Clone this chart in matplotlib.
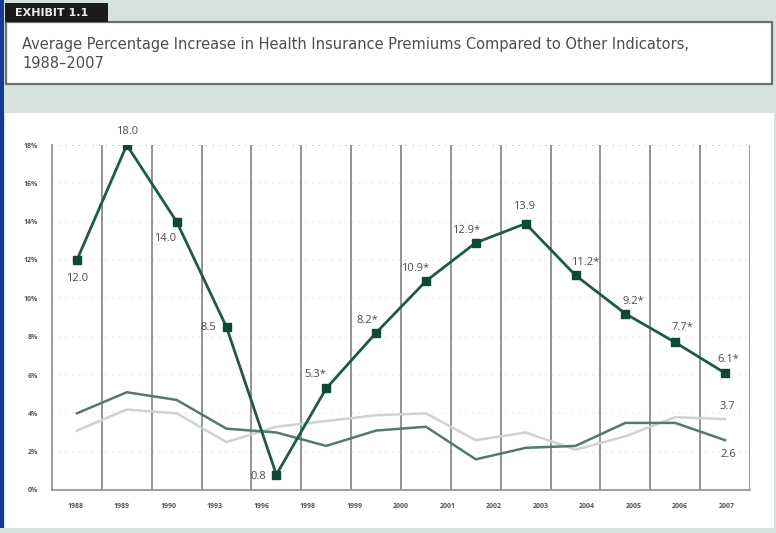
import matplotlib.pyplot as plt
from matplotlib.patches import Rectangle

# survey years shown under the axis
year_labels = ["1988", "1989", "1990", "1993", "1996", "1998", "1999", "2000",
               "2001", "2002", "2003", "2004", "2005", "2006", "2007"]

# average % increase per survey year
premiums = [12.0, 18.0, 14.0, 8.5, 0.8, 5.3, 8.2, 10.9, 12.9, 13.9, 11.2, 9.2, 7.7, 6.1]
premium_text = ["12.0", "18.0", "14.0", "8.5", "0.8", "5.3*", "8.2*", "10.9*",
                "12.9*", "13.9", "11.2*", "9.2*", "7.7*", "6.1*"]
inflation = [4.0, 5.1, 4.7, 3.2, 3.0, 2.3, 3.1, 3.3, 1.6, 2.2, 2.3, 3.5, 3.5, 2.6]
earnings = [3.1, 4.2, 4.0, 2.5, 3.3, 3.6, 3.9, 4.0, 2.6, 3.0, 2.1, 2.8, 3.8, 3.7]
y_ticks = [0, 2, 4, 6, 8, 10, 12, 14, 16, 18]

# where each premium label sits relative to its marker (points)
label_offsets = [(0, -13), (0, 10), (-8, -12), (-13, 0), (-13, -1), (-8, 10),
                 (-6, 9), (-8, 9), (-7, 9), (-1, 12), (7, 9), (6, 9), (5, 11), (2, 10)]

W, H = 776, 533
plt.rcParams["font.family"] = ["Open Sans", "DejaVu Sans"]
fig = plt.figure(figsize=(W / 100, H / 100), dpi=100)
fig.patch.set_facecolor("#d6e3dc")


def box(x0, y0, x1, y1, **kw):
    # rectangle given in pixels from the top-left corner
    r = Rectangle((x0 / W, 1 - y1 / H), (x1 - x0) / W, (y1 - y0) / H,
                  transform=fig.transFigure, zorder=-1, **kw)
    fig.patches.append(r)


box(0, 0, 4, 528, facecolor="#163c8c", edgecolor="none")
box(5, 113, 774, 528, facecolor="white", edgecolor="none")
box(6, 22, 772, 84, facecolor="white", edgecolor="#6f6f6f", linewidth=1.6)
box(5, 3, 108, 22, facecolor="#1b1b1b", edgecolor="none")
fig.text(15 / W, 1 - 13 / H, "EXHIBIT 1.1", color="#eeeeee", fontsize=8,
         fontweight="bold", va="center", family="DejaVu Sans")
fig.text(22 / W, 1 - 45 / H,
         "Average Percentage Increase in Health Insurance Premiums Compared to Other Indicators,",
         color="#4d4d4d", fontsize=10.5, va="center", family="DejaVu Sans")
fig.text(22 / W, 1 - 63 / H, "1988\u20132007", color="#4d4d4d", fontsize=10.5,
         va="center", family="DejaVu Sans")

ax = fig.add_axes([52 / W, 1 - 490 / H, 698 / W, 345 / H])
ax.set_facecolor("none")
n = len(premiums)
xs = [i + 0.5 for i in range(n)]
ax.set_xlim(0, n)
ax.set_ylim(0, 18)

for y in y_ticks[1:]:
    ax.axhline(y, color="#bbbbbb" if y == 18 else "#eeeeee", linestyle=(0, (1, 3)),
               linewidth=1.2, zorder=0)
for i in range(n + 1):
    ax.axvline(i, color="#8a8a8a", linewidth=1.3, zorder=1)

ax.plot(xs, earnings, color="#cdd3d0", linewidth=1.8, zorder=2)
ax.plot(xs, inflation, color="#557a6b", linewidth=1.8, zorder=3)
ax.plot(xs, premiums, color="#1e5a44", linewidth=2.0, marker="s", markersize=6,
        markerfacecolor="#0d4a32", markeredgecolor="#0d4a32", zorder=4)

for x, v, t, off in zip(xs, premiums, premium_text, label_offsets):
    ax.annotate(t, (x, v), xytext=off, textcoords="offset points", ha="center",
                va="center", fontsize=8, color="#4a4a4a")
ax.annotate(f"{earnings[-1]:.1f}", (xs[-1], earnings[-1]), xytext=(2, 9),
            textcoords="offset points", ha="center", va="center", fontsize=8, color="#4a4a4a")
ax.annotate(f"{inflation[-1]:.1f}", (xs[-1], inflation[-1]), xytext=(2, -10),
            textcoords="offset points", ha="center", va="center", fontsize=8, color="#4a4a4a")

for s in ["top", "right"]:
    ax.spines[s].set_visible(False)
for s in ["left", "bottom"]:
    ax.spines[s].set_color("#9a9a9a")
    ax.spines[s].set_linewidth(1.3)

ax.set_yticks(y_ticks)
ax.set_yticklabels([f"{v}%" for v in y_ticks], fontsize=5, color="#555555",
                   fontweight="bold")
ax.set_xticks([(k + 0.5) * n / len(year_labels) for k in range(len(year_labels))])
ax.set_xticklabels(year_labels, fontsize=5, color="#555555", fontweight="bold")
ax.tick_params(length=0, pad=10)
ax.tick_params(axis="x", pad=9)

fig.savefig("out.png", dpi=100, facecolor=fig.get_facecolor())
